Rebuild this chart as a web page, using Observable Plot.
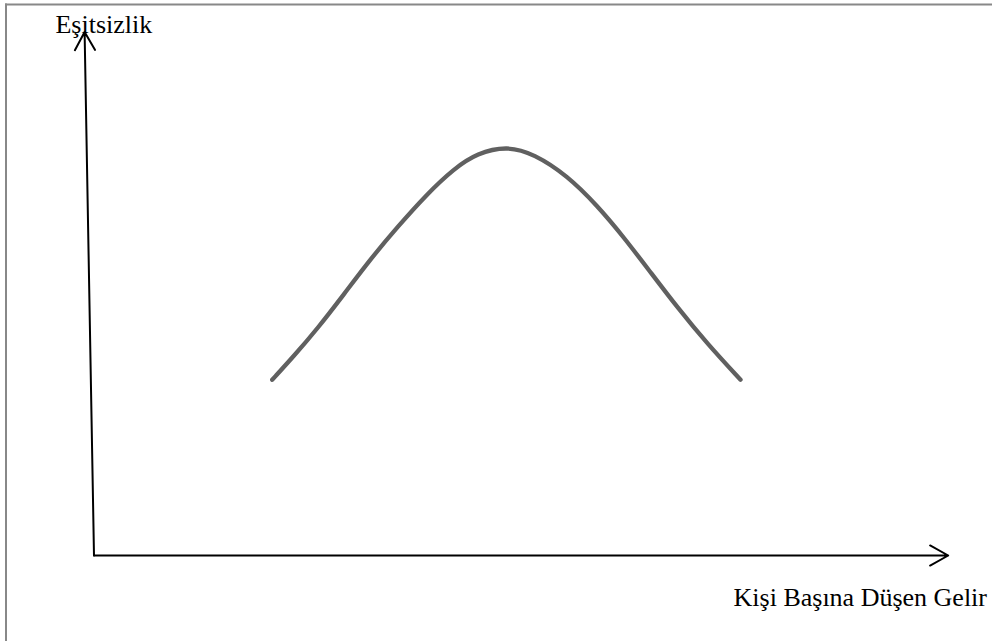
<!DOCTYPE html>
<html>
<head>
<meta charset="utf-8">
<script src="https://cdn.jsdelivr.net/npm/d3@7"></script>
<script src="https://cdn.jsdelivr.net/npm/@observablehq/plot@0.6"></script>
<style>
  html, body { margin: 0; padding: 0; background: #fff; }
  #chart svg { display: block; }
</style>
</head>
<body>
<div id="chart"></div>
<script>
// Kuznets curve: income per capita (x) vs inequality (y), in abstract units 0..100
const curveIncome = [20.86, 23.39, 26.13, 29.24, 32.37, 35.50, 39.01, 42.12, 44.86, 48.37,
                     51.49, 55.40, 58.91, 62.02, 65.15, 68.27, 71.79, 75.69];
const curveInequality = [33.66, 38.20, 43.40, 50.00, 56.80, 62.89, 69.29, 74.08, 77.07, 78.45,
                         76.95, 72.80, 67.05, 60.98, 54.27, 47.57, 40.56, 33.66];

// axes drawn as arrows (start -> end, in data units)
const axisX1 = [0, 0];
const axisY1 = [0, 0];
const axisX2 = [100, -1.1];
const axisY2 = [0, 100.3];

// axis titles
const labelText = ["Eşitsizlik", "Kişi Başına Düşen Gelir"];
const labelX = [-4.51, 74.87];
const labelY = [100.1, -9.6];

const curve = curveIncome.map((x, i) => ({x, y: curveInequality[i]}));
const axes = axisX1.map((_, i) => ({x1: axisX1[i], y1: axisY1[i], x2: axisX2[i], y2: axisY2[i]}));
const labels = labelText.map((t, i) => ({t, x: labelX[i], y: labelY[i]}));

const chart = Plot.plot({
  width: 992,
  height: 641,
  marginLeft: 5.5,
  marginTop: 4,
  marginRight: 0,
  marginBottom: 0,
  style: {background: "#fff", fontFamily: "'Liberation Serif', 'Times New Roman', serif", overflow: "visible"},
  x: {domain: [0, 100], range: [93.5, 947.7], axis: null},
  y: {domain: [0, 100], range: [555, 33], axis: null},
  marks: [
    Plot.frame({anchor: "left", stroke: "#888", strokeWidth: 2}),
    Plot.frame({anchor: "top", stroke: "#888", strokeWidth: 2}),
    Plot.arrow(axes, {x1: "x1", y1: "y1", x2: "x2", y2: "y2", stroke: "#000", strokeWidth: 2,
      headLength: 15.5, headAngle: 58, bend: 0}),
    Plot.line(curve, {x: "x", y: "y", curve: "basis", stroke: "#606060", strokeWidth: 4.3,
      strokeLinecap: "round", strokeLinejoin: "round"}),
    Plot.text(labels, {x: "x", y: "y", text: "t", textAnchor: "start", lineAnchor: "bottom",
      fontSize: 26, fill: "#000", fontFamily: "'Liberation Serif', serif"})
  ]
});
document.getElementById("chart").appendChild(chart);
</script>
</body>
</html>
